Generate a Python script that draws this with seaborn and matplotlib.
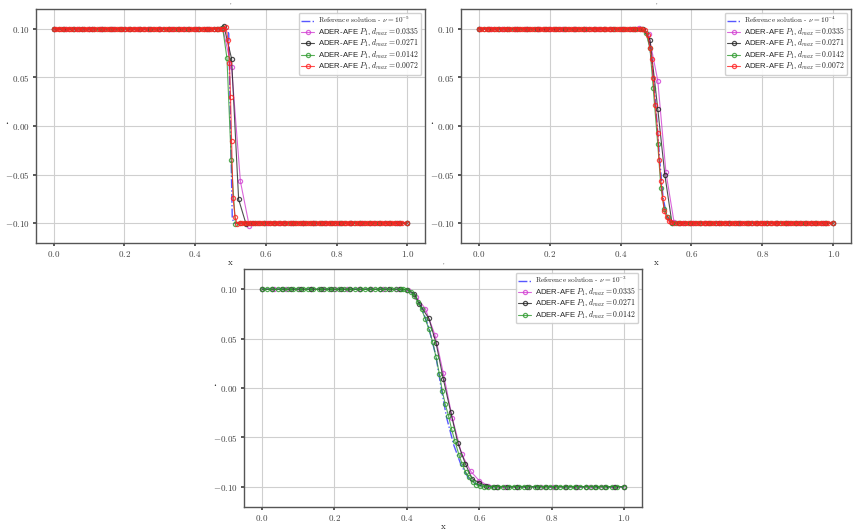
import matplotlib
matplotlib.use("Agg")
import matplotlib.pyplot as plt
import seaborn as sns

# ---------------- data ----------------
UPPER = 0.1
LOWER = -0.1

# mesh nodes (flat parts) per resolution
mag_nodes = [0.000, 0.034, 0.067, 0.101, 0.134, 0.168, 0.201, 0.235, 0.268, 0.302, 0.335,
             0.369, 0.402, 0.436, 0.469, 0.503, 0.536, 0.570, 0.603, 0.637, 0.670, 0.704,
             0.737, 0.771, 0.804, 0.838, 0.871, 0.905, 0.938, 0.972, 1.000]
blk_nodes = [0.000, 0.027, 0.054, 0.081, 0.108, 0.136, 0.163, 0.190, 0.217, 0.244, 0.271,
             0.298, 0.325, 0.352, 0.379, 0.407, 0.434, 0.461, 0.488, 0.515, 0.542, 0.569,
             0.596, 0.623, 0.650, 0.678, 0.705, 0.732, 0.759, 0.786, 0.813, 0.840, 0.867,
             0.894, 0.921, 0.949, 0.976, 1.000]
grn_nodes = [0.000, 0.014, 0.028, 0.043, 0.057, 0.071, 0.085, 0.099, 0.114, 0.128, 0.142,
             0.156, 0.170, 0.185, 0.199, 0.213, 0.227, 0.241, 0.256, 0.270, 0.284, 0.298,
             0.312, 0.327, 0.341, 0.355, 0.369, 0.383, 0.398, 0.412, 0.426, 0.440, 0.454,
             0.469, 0.483, 0.497, 0.511, 0.525, 0.540, 0.554, 0.568, 0.582, 0.596, 0.611,
             0.625, 0.639, 0.653, 0.667, 0.682, 0.696, 0.710, 0.724, 0.738, 0.753, 0.767,
             0.781, 0.795, 0.809, 0.824, 0.838, 0.852, 0.866, 0.880, 0.895, 0.909, 0.923,
             0.937, 0.951, 0.966, 0.980, 1.000]
red_nodes = [0.000, 0.007, 0.014, 0.022, 0.029, 0.036, 0.043, 0.050, 0.058, 0.065, 0.072,
             0.079, 0.086, 0.094, 0.101, 0.108, 0.115, 0.122, 0.130, 0.137, 0.144, 0.151,
             0.158, 0.166, 0.173, 0.180, 0.187, 0.194, 0.202, 0.209, 0.216, 0.223, 0.230,
             0.238, 0.245, 0.252, 0.259, 0.266, 0.274, 0.281, 0.288, 0.295, 0.302, 0.310,
             0.317, 0.324, 0.331, 0.338, 0.346, 0.353, 0.360, 0.367, 0.374, 0.382, 0.389,
             0.396, 0.403, 0.410, 0.418, 0.425, 0.432, 0.439, 0.446, 0.454, 0.461, 0.468,
             0.475, 0.482, 0.490, 0.497, 0.504, 0.511, 0.518, 0.526, 0.533, 0.540, 0.547,
             0.554, 0.562, 0.569, 0.576, 0.583, 0.590, 0.598, 0.605, 0.612, 0.619, 0.626,
             0.634, 0.641, 0.648, 0.655, 0.662, 0.670, 0.677, 0.684, 0.691, 0.698, 0.706,
             0.713, 0.720, 0.727, 0.734, 0.742, 0.749, 0.756, 0.763, 0.770, 0.778, 0.785,
             0.792, 0.799, 0.806, 0.814, 0.821, 0.828, 0.835, 0.842, 0.850, 0.857, 0.864,
             0.871, 0.878, 0.886, 0.893, 0.900, 0.907, 0.914, 0.922, 0.929, 0.936, 0.943,
             0.950, 0.958, 0.965, 0.972, 0.979, 0.986, 1.000]

# --- panel 1: nu = 1e-5 ---
p1_ref_x = [0.0, 0.490, 0.495, 0.500, 0.505, 0.510, 1.0]
p1_ref_y = [0.1, 0.1, 0.095, 0.0, -0.095, -0.1, -0.1]
p1_mag_x = [0.453, 0.478, 0.503, 0.528, 0.553, 0.578]
p1_mag_y = [0.1, 0.1005, 0.0605, -0.057, -0.1028, -0.1]
p1_blk_x = [0.461, 0.481, 0.503, 0.523, 0.544, 0.565]
p1_blk_y = [0.1, 0.1034, 0.0694, -0.0756, -0.101, -0.1]
p1_grn_x = [0.466, 0.478, 0.490, 0.502, 0.514, 0.526]
p1_grn_y = [0.1, 0.1005, 0.0698, -0.035, -0.101, -0.1]
p1_red_x = [0.480, 0.487, 0.493, 0.497, 0.500, 0.503, 0.507, 0.513, 0.519, 0.526]
p1_red_y = [0.1, 0.102, 0.089, 0.0646, 0.030, -0.0155, -0.074, -0.094, -0.1005, -0.1]

# --- panel 2: nu = 1e-4 ---
p2_ref_x = [0.0, 0.44, 0.46, 0.47, 0.48, 0.49, 0.50, 0.51, 0.52, 0.53, 0.54, 0.55, 0.56, 1.0]
p2_ref_y = [0.1, 0.1, 0.0995, 0.097, 0.088, 0.060, 0.018, -0.033, -0.074, -0.092, -0.0985,
            -0.0998, -0.1, -0.1]
p2_mag_x = [0.428, 0.453, 0.479, 0.505, 0.528, 0.551, 0.576]
p2_mag_y = [0.1, 0.1007, 0.095, 0.0467, -0.0477, -0.0993, -0.1]
p2_blk_x = [0.442, 0.462, 0.483, 0.505, 0.525, 0.545, 0.566]
p2_blk_y = [0.1, 0.1, 0.0887, 0.0175, -0.0505, -0.1, -0.1]
p2_grn_x = [0.460, 0.472, 0.483, 0.492, 0.505, 0.514, 0.523, 0.533, 0.545, 0.556]
p2_grn_y = [0.0998, 0.0955, 0.080, 0.0395, -0.019, -0.064, -0.085, -0.0935, -0.0995, -0.1]
p2_red_x = [0.470, 0.477, 0.483, 0.488, 0.492, 0.498, 0.505, 0.509, 0.514, 0.519, 0.523,
            0.530, 0.536, 0.542, 0.550]
p2_red_y = [0.0985, 0.0938, 0.080, 0.069, 0.049, 0.0216, -0.0075, -0.035, -0.057, -0.074,
            -0.088, -0.094, -0.098, -0.0993, -0.1]

# --- panel 3: nu = 1e-3 ---
p3_ref_x = [0.0, 0.36, 0.38, 0.40, 0.42, 0.44, 0.46, 0.48, 0.495, 0.51, 0.53, 0.55, 0.57,
            0.59, 0.61, 0.63, 1.0]
p3_ref_y = [0.1, 0.1, 0.0997, 0.0993, 0.095, 0.082, 0.062, 0.033, 0.0, -0.03, -0.058,
            -0.078, -0.091, -0.097, -0.0993, -0.0999, -0.1]
p3_mag_x = [0.378, 0.4025, 0.4254, 0.451, 0.4779, 0.5009, 0.5258, 0.5516, 0.5764, 0.600,
            0.625, 0.650]
p3_mag_y = [0.1, 0.0997, 0.0922, 0.0805, 0.0536, 0.0149, -0.0305, -0.0668, -0.0843,
            -0.0938, -0.099, -0.1]
p3_blk_x = [0.381, 0.401, 0.421, 0.4337, 0.461, 0.481, 0.501, 0.521, 0.541, 0.562, 0.580,
            0.600, 0.620, 0.640]
p3_blk_y = [0.1, 0.0995, 0.0956, 0.0855, 0.0704, 0.0452, 0.0089, -0.0238, -0.0557, -0.0769,
            -0.0917, -0.096, -0.099, -0.0998]
p3_grn_x = [0.390, 0.400, 0.411, 0.421, 0.431, 0.441, 0.451, 0.461, 0.471, 0.481, 0.490,
            0.498, 0.506, 0.515, 0.524, 0.533, 0.544, 0.553, 0.563, 0.572, 0.582, 0.592,
            0.602, 0.612]
p3_grn_y = [0.1, 0.0997, 0.0975, 0.093, 0.087, 0.0795, 0.070, 0.0596, 0.047, 0.031, 0.014,
            -0.003, -0.016, -0.028, -0.042, -0.054, -0.0675, -0.077, -0.0853, -0.0904,
            -0.095, -0.098, -0.0993, -0.0999]

nu_labels = ["10^{-5}", "10^{-4}", "10^{-3}"]
dmax_labels = ["0.0335", "0.0271", "0.0142", "0.0072"]
x_ticks = [0.0, 0.2, 0.4, 0.6, 0.8, 1.0]
x_tick_labels = ["$0.0$", "$0.2$", "$0.4$", "$0.6$", "$0.8$", "$1.0$"]
y_ticks = [-0.10, -0.05, 0.00, 0.05, 0.10]
y_tick_labels = ["$-0.10$", "$-0.05$", "$0.00$", "$0.05$", "$0.10$"]
series_colors = ["#d23fd2", "#222222", "#2e9a2e", "#ff2020"]
ref_color = "#3a3aff"


def build(nodes, tx, ty):
    left = [n for n in nodes if n < tx[0] - 0.004]
    right = [n for n in nodes if n > tx[-1] + 0.004]
    return left + list(tx) + right, [UPPER] * len(left) + list(ty) + [LOWER] * len(right)


panels = [
    (p1_ref_x, p1_ref_y, [(mag_nodes, p1_mag_x, p1_mag_y), (blk_nodes, p1_blk_x, p1_blk_y),
                          (grn_nodes, p1_grn_x, p1_grn_y), (red_nodes, p1_red_x, p1_red_y)]),
    (p2_ref_x, p2_ref_y, [(mag_nodes, p2_mag_x, p2_mag_y), (blk_nodes, p2_blk_x, p2_blk_y),
                          (grn_nodes, p2_grn_x, p2_grn_y), (red_nodes, p2_red_x, p2_red_y)]),
    (p3_ref_x, p3_ref_y, [(mag_nodes, p3_mag_x, p3_mag_y), (blk_nodes, p3_blk_x, p3_blk_y),
                          (grn_nodes, p3_grn_x, p3_grn_y)]),
]

# ---------------- style ----------------
sns.set_theme(style="whitegrid")
plt.rcParams.update({
    "font.family": ["serif"],
    "font.serif": ["cmr10", "DejaVu Serif"],
    "mathtext.fontset": "cm",
    "axes.formatter.use_mathtext": True,
    "axes.edgecolor": "#555555",
    "axes.linewidth": 1.0,
    "grid.color": "#cfcfcf",
    "grid.linewidth": 0.8,
    "xtick.bottom": True,
    "ytick.left": True,
    "xtick.major.size": 2.5,
    "ytick.major.size": 2.5,
    "xtick.major.pad": 1.5,
    "ytick.major.pad": 2.0,
    "xtick.color": "#444444",
    "ytick.color": "#444444",
    "xtick.labelsize": 6.5,
    "ytick.labelsize": 6.5,
})

W, H = 859, 532
fig = plt.figure(figsize=(W / 100, H / 100), dpi=100)
# (left, top, right, bottom) in pixels
boxes = [(36, 9, 425, 243), (461, 9, 851, 243), (244, 269, 642, 507)]

for (l, t, r, b), nu, (rx, ry, series) in zip(boxes, nu_labels, panels):
    ax = fig.add_axes([l / W, 1 - b / H, (r - l) / W, (b - t) / H])
    sns.lineplot(x=rx, y=ry, ax=ax, color=ref_color, linestyle="-.", linewidth=1.0,
                 sort=False, estimator=None, alpha=0.85,
                 label=r"Reference solution - $\nu = %s$" % nu)
    for (nodes, tx, ty), col, dl in zip(series, series_colors, dmax_labels):
        xs, ys = build(nodes, tx, ty)
        sns.lineplot(x=xs, y=ys, ax=ax, color=col, linewidth=0.8, alpha=0.8,
                     marker="o", markersize=3.0, markerfacecolor="none",
                     markeredgecolor=col, markeredgewidth=0.9,
                     sort=False, estimator=None,
                     label=r"ADER-AFE $P_1$, $d_{max} = %s$" % dl)
    ax.set_xlim(-0.05, 1.05)
    ax.set_ylim(-0.1205, 0.1205)
    ax.set_xticks(x_ticks)
    ax.set_yticks(y_ticks)
    ax.set_xticklabels(x_tick_labels)
    ax.set_yticklabels(y_tick_labels)
    ax.set_xlabel("x", fontsize=6.5)
    ax.xaxis.set_label_coords(0.5, -16.0 / (b - t))
    ax.set_ylabel("\u2022", fontsize=3.5, family=["DejaVu Sans"], rotation=0)
    ax.yaxis.set_label_coords(-29.0 / (r - l), 0.5)
    ax.set_title("'", fontsize=4, pad=0.5)
    for s in ax.spines.values():
        s.set_visible(True)
        s.set_color("#555555")
    leg = ax.legend(loc="upper right", fontsize=5.5, frameon=True, framealpha=0.9,
                    edgecolor="#cccccc", handlelength=1.7, labelspacing=0.02,
                    borderpad=0.3, handletextpad=0.5, borderaxespad=0.5)
    for txt in leg.get_texts()[1:]:
        txt.set_family(["Liberation Sans", "DejaVu Sans"])
        txt.set_fontsize(5.6)
    leg.get_texts()[0].set_fontsize(5.2)

fig.savefig("out.png", dpi=100)
